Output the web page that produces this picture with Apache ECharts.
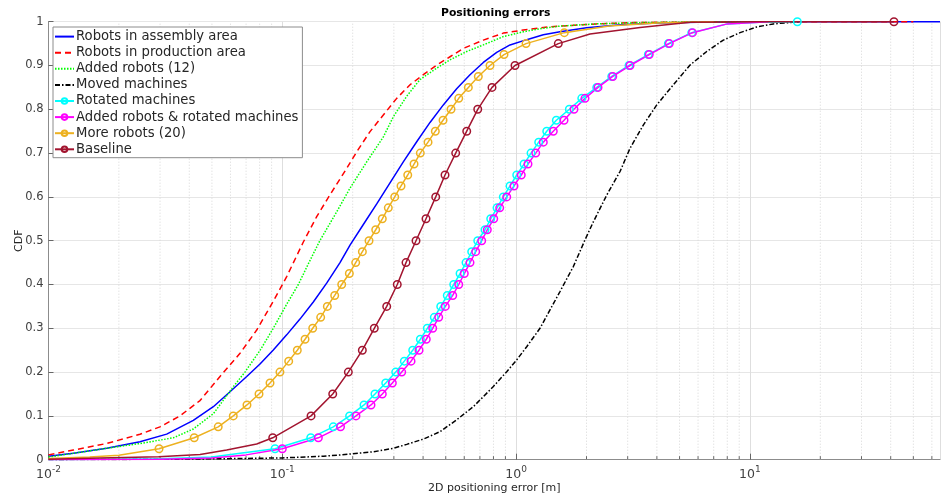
<!DOCTYPE html>
<html><head><meta charset="utf-8">
<script src="https://cdn.jsdelivr.net/npm/echarts@6/dist/echarts.min.js"></script>
<style>html,body{margin:0;padding:0;background:#fff}#c{width:942px;height:498px}</style>
</head><body><div id="c"></div>
<script>
// ---------- data ----------
const seriesNames = ['Robots in assembly area','Robots in production area','Added robots (12)','Moved machines','Rotated machines','Added robots & rotated machines','More robots (20)','Baseline'];
const xTickValues = [0.01, 0.1, 1, 10];
const yTickLabels = ['0','0.1','0.2','0.3','0.4','0.5','0.6','0.7','0.8','0.9','1'];

// Robots in assembly area
const assemblyX = [0.01,0.01277,0.01774,0.02462,0.03202,0.04162,0.0507,0.05975,0.07043,0.08027,0.09152,0.1044,0.119,0.1357,0.1548,0.1765,0.1948,0.2221,0.2534,0.2888,0.3292,0.3757,0.4283,0.4883,0.5568,0.635,0.7241,0.826,0.9417,1.11,1.307,1.541,2.0,2.8,4.0,6.0,10,65];
const assemblyY = [0.008,0.0146,0.026,0.041,0.0584,0.0897,0.121,0.155,0.19,0.2185,0.2505,0.285,0.321,0.36,0.403,0.45,0.49,0.537,0.584,0.632,0.68,0.726,0.77,0.81,0.847,0.879,0.907,0.93,0.947,0.959,0.97,0.977,0.986,0.993,0.997,0.999,1.0,1.0];
// Robots in production area
const productionX = [0.01,0.01277,0.01774,0.02462,0.02998,0.03651,0.04446,0.05415,0.06594,0.07772,0.09152,0.1044,0.123,0.1403,0.16,0.1885,0.2081,0.2372,0.2704,0.3085,0.3518,0.401,0.4575,0.5216,0.5945,0.7241,0.8814,1.073,1.307,1.541,2.2,3.2,5,10,50];
const productionY = [0.011,0.022,0.037,0.058,0.075,0.1,0.135,0.19,0.243,0.296,0.362,0.418,0.497,0.555,0.605,0.665,0.703,0.749,0.787,0.825,0.856,0.879,0.901,0.92,0.939,0.958,0.974,0.981,0.987,0.99,0.995,0.998,0.999,1.0,1.0];
// Added robots (12)
const added12X = [0.01,0.01277,0.01774,0.02462,0.0342,0.0416,0.0507,0.056,0.062,0.0692,0.0804,0.0915,0.1044,0.1171,0.13,0.1447,0.1709,0.1948,0.2296,0.2704,0.2985,0.3405,0.3882,0.4575,0.5216,0.6148,0.7241,0.8814,1.073,1.307,1.541,2.2,3.5,6,12];
const added12Y = [0.006,0.0146,0.026,0.037,0.05,0.07,0.105,0.136,0.168,0.2,0.25,0.3,0.355,0.4,0.45,0.5,0.566,0.62,0.68,0.737,0.783,0.83,0.868,0.894,0.913,0.932,0.947,0.966,0.977,0.985,0.99,0.995,0.998,0.9995,1.0];
// Moved machines
const movedX = [0.01,0.03,0.05,0.1,0.15,0.1765,0.245,0.2985,0.3405,0.401,0.4727,0.5568,0.6559,0.7241,0.799,0.9116,1.006,1.11,1.265,1.396,1.541,1.757,1.971,2.139,2.44,2.782,3.07,3.499,3.994,4.703,5.544,6.535,7.696,9.072,10.69,12.59,16.38];
const movedY = [0.0,0.001,0.002,0.004,0.008,0.0107,0.018,0.026,0.035,0.047,0.064,0.091,0.121,0.144,0.167,0.201,0.228,0.258,0.3,0.342,0.384,0.441,0.502,0.543,0.604,0.658,0.711,0.764,0.81,0.856,0.901,0.932,0.958,0.975,0.988,0.995,1.0];
// Rotated machines (marker points + unmarked line points)
const rotatedMarkX = [0.0931,0.1323,0.1652,0.194,0.2236,0.2491,0.2769,0.3055,0.3325,0.3612,0.3894,0.4171,0.4468,0.476,0.5077,0.5409,0.5758,0.6105,0.6457,0.6853,0.7362,0.7787,0.8286,0.8814,0.9417,1.006,1.081,1.158,1.249,1.352,1.486,1.689,1.909,2.212,2.564,3.04,3.677,4.477,5.638,15.95];
const rotatedMarkY = [0.025,0.05,0.075,0.1,0.125,0.15,0.175,0.2,0.225,0.25,0.275,0.3,0.325,0.35,0.375,0.4,0.425,0.45,0.475,0.5,0.525,0.55,0.575,0.6,0.625,0.65,0.675,0.7,0.725,0.75,0.775,0.8,0.825,0.85,0.875,0.9,0.925,0.95,0.975,1.0];
const rotatedLineX = [0.01,0.03,0.05,0.066,8,11];
const rotatedLineY = [0.0,0.002,0.006,0.0146,0.995,0.999];
// Added robots & rotated machines
const addRotMarkX = [0.1,0.1426,0.1774,0.2066,0.2395,0.2677,0.2955,0.3241,0.3553,0.3844,0.4128,0.4398,0.4666,0.4979,0.5356,0.5683,0.6003,0.635,0.6716,0.7124,0.753,0.8022,0.8508,0.9116,0.9795,1.052,1.124,1.213,1.307,1.442,1.603,1.768,1.971,2.24,2.59,3.07,3.71,4.52,5.68];
const addRotMarkY = [0.025,0.05,0.075,0.1,0.125,0.15,0.175,0.2,0.225,0.25,0.275,0.3,0.325,0.35,0.375,0.4,0.425,0.45,0.475,0.5,0.525,0.55,0.575,0.6,0.625,0.65,0.675,0.7,0.725,0.75,0.775,0.8,0.825,0.85,0.875,0.9,0.925,0.95,0.975];
const addRotLineX = [0.01,0.03,0.05,0.07,8,12];
const addRotLineY = [0.0,0.001,0.004,0.011,0.995,1.0];
// More robots (20)
const more20MarkX = [0.0297,0.042,0.0532,0.0617,0.0706,0.0795,0.0886,0.0977,0.1065,0.1159,0.1251,0.1349,0.1459,0.1558,0.1675,0.1795,0.1935,0.206,0.22,0.2349,0.2509,0.2677,0.284,0.3025,0.3219,0.3439,0.3659,0.3892,0.42,0.4513,0.4869,0.5268,0.5683,0.6247,0.6892,0.7732,0.8875,1.1024,1.607];
const more20MarkY = [0.025,0.05,0.075,0.1,0.125,0.15,0.175,0.2,0.225,0.25,0.275,0.3,0.325,0.35,0.375,0.4,0.425,0.45,0.475,0.5,0.525,0.55,0.575,0.6,0.625,0.65,0.675,0.7,0.725,0.75,0.775,0.8,0.825,0.85,0.875,0.9,0.925,0.95,0.975];
const more20LineX = [0.01,0.015,0.02,2.5,4,7];
const more20LineY = [0.003,0.006,0.01,0.99,0.997,1.0];
// Baseline
const baselineMarkX = [0.091,0.1327,0.1643,0.1916,0.2199,0.2474,0.2796,0.3102,0.3381,0.3731,0.4117,0.453,0.4965,0.5515,0.6148,0.6853,0.7887,0.989,1.515,41.3];
const baselineMarkY = [0.05,0.1,0.15,0.2,0.25,0.3,0.35,0.4,0.45,0.5,0.55,0.6,0.65,0.7,0.75,0.8,0.85,0.9,0.95,1.0];
const baselineLineX = [0.01,0.0166,0.0296,0.0445,0.0578,0.0777,2.07,3.39,5.55,11];
const baselineLineY = [0.001,0.004,0.007,0.012,0.022,0.036,0.972,0.987,0.9985,1.0];

// minor log grid positions (2..9 within each decade)
const minorMultipliers = [2,3,4,5,6,7,8,9];
const decades = [0.01,0.1,1,10];

// ---------- build ----------
const X_MAX = 65;
const FONT = 'DejaVu Sans';
function pairs(xs, ys){ return xs.map((x,i)=>[x, ys[i]]); }
function marked(mx, my, lx, ly){
  const pts = mx.map((x,i)=>({value:[x,my[i]]}))
    .concat(lx.map((x,i)=>({value:[x,ly[i]], symbol:'none'})));
  pts.sort((a,b)=> a.value[0]-b.value[0] || a.value[1]-b.value[1]);
  return pts;
}
const minorVals = [];
decades.forEach(d => minorMultipliers.forEach(m => { const v = d*m; if (v < X_MAX) minorVals.push([v, 0]); }));

function plain(name, data, color, type){
  return {name, type:'line', data, symbol:'none', showSymbol:false, z:3,
    lineStyle:{color, width:1.5, type: type||'solid'}, itemStyle:{color},
    emphasis:{disabled:true}, animation:false, clip:true};
}
function withMarks(name, data, color){
  return {name, type:'line', data, symbol:'circle', symbolSize:7.5, showSymbol:true, showAllSymbol:true, z:3,
    lineStyle:{color, width:1.5}, itemStyle:{color:'rgba(0,0,0,0)', borderColor:color, borderWidth:1.5},
    emphasis:{disabled:true}, animation:false, clip:true};
}

const legendData = seriesNames.map((n, i) => i < 4
  ? {name:n, itemStyle:{opacity:0}}
  : {name:n});

const chart = echarts.init(document.getElementById('c'), null, {renderer:'canvas'});
chart.setOption({
  backgroundColor:'#ffffff',
  animation:false,
  title:{text:'Positioning errors', left:441, top:7.5, padding:0,
    textStyle:{fontFamily:FONT, fontSize:10.8, fontWeight:'bold', color:'#000'}},
  legend:{
    data: legendData, orient:'vertical', left:53, top:27,
    padding:[2.6,4,1.4,1], itemGap:2.1, itemWidth:19, itemHeight:7,
    backgroundColor:'#fff', borderColor:'#8c8c8c', borderWidth:1, borderRadius:0,
    textStyle:{fontFamily:FONT, fontSize:13.2, lineHeight:14, color:'#262626', padding:[0,0,0,-3]},
    selectedMode:false
  },
  grid:{left:48.5, top:21.7, width:891.5, height:438, containLabel:false, outerBoundsMode:'none'},
  xAxis:{
    type:'log', logBase:10, min:0.01, max:X_MAX,
    name:'2D positioning error [m]', nameLocation:'middle', nameGap:22.5, nameMoveOverlap:false,
    nameTextStyle:{fontFamily:FONT, fontSize:11, color:'#262626'},
    axisLine:{show:true, onZero:false, lineStyle:{color:'#8c8c8c', width:1}},
    axisTick:{show:true, inside:true, length:6, lineStyle:{color:'#666'}},
    axisLabel:{showMaxLabel:false, margin:5,
      formatter: v => { const e = Math.round(Math.log10(v)); return '{b|10}{s|' + e + '}'; },
      rich:{ b:{fontFamily:FONT, fontSize:12.5, color:'#404040', verticalAlign:'bottom'},
             s:{fontFamily:FONT, fontSize:9, color:'#404040', verticalAlign:'bottom', padding:[0,0,8,0]} }
    },
    splitLine:{show:true, lineStyle:{color:'#dedede', width:1}},
    minorTick:{show:false}, minorSplitLine:{show:false}
  },
  yAxis:{
    type:'value', min:0, max:1, interval:0.1,
    name:'CDF', nameLocation:'middle', nameGap:24, nameRotate:90, nameMoveOverlap:false,
    nameTextStyle:{fontFamily:FONT, fontSize:11, color:'#262626'},
    axisLine:{show:true, onZero:false, lineStyle:{color:'#8c8c8c', width:1}},
    axisTick:{show:true, inside:true, length:5, lineStyle:{color:'#666'}},
    axisLabel:{margin:5, fontFamily:FONT, fontSize:11.5, color:'#404040',
      formatter: v => yTickLabels[Math.round(v*10)]},
    splitLine:{show:true, lineStyle:{color:'#e6e6e6', width:1}}
  },
  series:[
    {type:'custom', name:'minorgrid', data:minorVals, z:1, silent:true, animation:false, clip:true,
     encode:{x:0, y:1},
     renderItem:(params, api) => {
       const v = api.value(0);
       const b = api.coord([v, 0]);
       const t = api.coord([v, 1]);
       return {type:'group', children:[
         {type:'line', shape:{x1:b[0], y1:b[1], x2:t[0], y2:t[1]}, style:{stroke:'#d6d6d6', lineWidth:1, lineDash:[1,2]}},
         {type:'line', shape:{x1:b[0], y1:b[1], x2:b[0], y2:b[1]-3.5}, style:{stroke:'#666', lineWidth:1}}
       ]};
     }},
    plain(seriesNames[0], pairs(assemblyX, assemblyY), '#0000ff'),
    plain(seriesNames[1], pairs(productionX, productionY), '#ff0000', [6,4]),
    plain(seriesNames[2], pairs(added12X, added12Y), '#00ff00', [1.5,1.5]),
    plain(seriesNames[3], pairs(movedX, movedY), '#000000', [5,2,1.5,2]),
    withMarks(seriesNames[4], marked(rotatedMarkX, rotatedMarkY, rotatedLineX, rotatedLineY), '#00ffff'),
    withMarks(seriesNames[5], marked(addRotMarkX, addRotMarkY, addRotLineX, addRotLineY), '#ff00ff'),
    withMarks(seriesNames[6], marked(more20MarkX, more20MarkY, more20LineX, more20LineY), '#edb120'),
    withMarks(seriesNames[7], marked(baselineMarkX, baselineMarkY, baselineLineX, baselineLineY), '#a2142f')
  ]
});
</script></body></html>
